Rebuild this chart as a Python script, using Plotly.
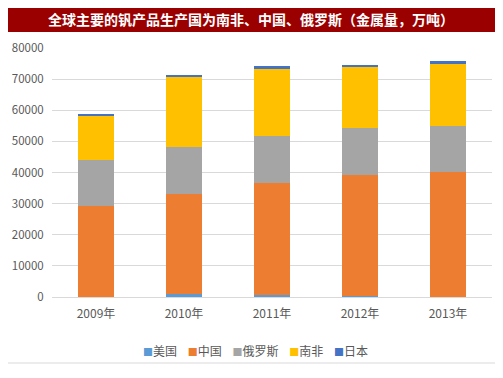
import plotly.graph_objects as go

years = ["2009年", "2010年", "2011年", "2012年", "2013年"]
usa = [100, 900, 500, 300, 100]
china = [29200, 32300, 36000, 39000, 40000]
russia = [14600, 14900, 15100, 15000, 15000]
south_africa = [14300, 22800, 21900, 19600, 19900]
japan = [600, 500, 600, 700, 900]

series = [
    ("美国", usa, "#5B9BD5"),
    ("中国", china, "#ED7D31"),
    ("俄罗斯", russia, "#A5A5A5"),
    ("南非", south_africa, "#FFC000"),
    ("日本", japan, "#4472C4"),
]

fig = go.Figure()
for name, vals, color in series:
    fig.add_trace(go.Bar(x=years, y=vals, name=name, marker=dict(color=color, line=dict(width=0))))

font_family = "Noto Sans CJK SC, Microsoft YaHei, sans-serif"

legend_text = "&nbsp;&nbsp;&nbsp;&nbsp;".join(
    f"<span style='color:{c};font-size:10px'>■</span>{n}" for n, _, c in series
)

# The page body has an 8px margin, so the figure is 8px smaller than the window.
fig.update_layout(
    barmode="stack",
    bargap=0.59,
    width=495,
    height=370,
    margin=dict(l=44, r=11, t=40, b=81, autoexpand=False),
    paper_bgcolor="white",
    plot_bgcolor="white",
    font=dict(family=font_family, size=12, color="#595959"),
    showlegend=False,
    xaxis=dict(showgrid=False, showline=True, linecolor="#D9D9D9", linewidth=1,
               ticks="outside", ticklen=6, tickcolor="rgba(0,0,0,0)", automargin=False,
               tickfont=dict(size=12, color="#595959")),
    yaxis=dict(range=[0, 80000], dtick=10000, showgrid=True, gridcolor="#D9D9D9",
               gridwidth=1, zeroline=False, showline=False, automargin=False,
               ticks="outside", ticklen=5, tickcolor="rgba(0,0,0,0)",
               tickformat="d", tickfont=dict(size=11.5, color="#595959")),
    shapes=[
        dict(type="rect", xref="paper", yref="paper",
             x0=-0.1136, x1=1.0205, y0=1.0643, y1=1.1847,
             fillcolor="#9B0000", line=dict(width=0), layer="above"),
        dict(type="rect", xref="paper", yref="paper",
             x0=-0.2, x1=1.0193, y0=-0.2651, y1=1.3,
             fillcolor="rgba(0,0,0,0)", line=dict(width=1, color="#D9D9D9"), layer="below"),
    ],
    annotations=[
        dict(text="<b>全球主要的钒产品生产国为南非、中国、俄罗斯（金属量，万吨）</b>",
             xref="paper", yref="paper", x=0.453, y=1.1165, xanchor="center", yanchor="middle",
             showarrow=False, font=dict(family="Noto Sans CJK SC, serif", size=14, color="white")),
        dict(text=legend_text, xref="paper", yref="paper", x=(255.5 - 52) / 440, y=(297 - 350) / 249,
             xanchor="center", yanchor="middle", showarrow=False,
             font=dict(size=12, color="#595959")),
    ],
)

fig.write_html("out.html")
